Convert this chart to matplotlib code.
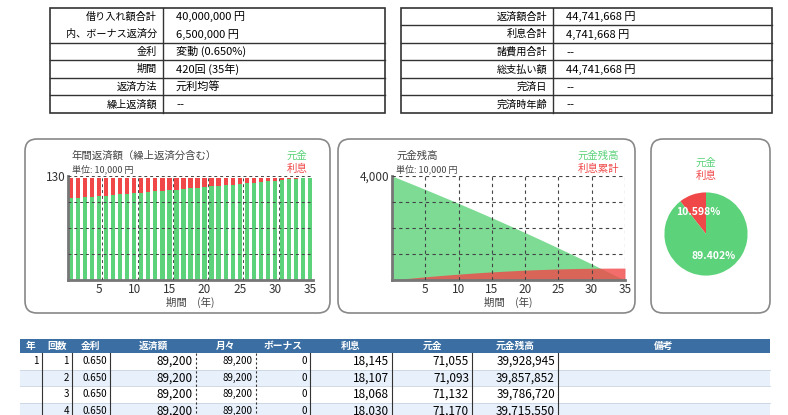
import matplotlib
matplotlib.use("Agg")
import matplotlib.pyplot as plt
from matplotlib.patches import FancyBboxPatch, Rectangle
import numpy as np

plt.rcParams['font.family'] = ['Noto Sans CJK JP', 'DejaVu Sans']

# ---- data ----
left_labels = ["借り入れ額合計", "内、ボーナス返済分", "金利", "期間", "返済方法", "繰上返済額"]
left_values = ["40,000,000 円", "6,500,000 円", "変動 (0.650%)", "420回 (35年)", "元利均等", "--"]
right_labels = ["返済額合計", "利息合計", "諸費用合計", "総支払い額", "完済日", "完済時年齢"]
right_values = ["44,741,668 円", "4,741,668 円", "--", "44,741,668 円", "--", "--"]

years = list(range(1, 36))
interest = [25.6, 25.0, 24.3, 23.6, 22.9, 22.2, 21.5, 20.8, 20.1, 19.4, 18.6, 17.9,
            17.1, 16.4, 15.6, 14.8, 14.0, 13.3, 12.5, 11.7, 10.9, 10.1, 9.3, 8.5,
            7.7, 6.9, 6.1, 5.3, 4.5, 3.7, 2.9, 2.1, 1.4, 0.8, 0.4]
principal = [102.2, 102.8, 103.5, 104.2, 104.9, 105.6, 106.3, 107.0, 107.7, 108.4,
             109.2, 109.9, 110.7, 111.4, 112.2, 113.0, 113.8, 114.5, 115.3, 116.1,
             116.9, 117.7, 118.5, 119.3, 120.1, 120.9, 121.7, 122.5, 123.3, 124.1,
             124.9, 125.7, 126.4, 127.0, 127.4]
bal_years = list(range(0, 36))
balance = [4000, 3898, 3795, 3691, 3587, 3482, 3377, 3270, 3163, 3056, 2947, 2838,
           2728, 2617, 2506, 2394, 2281, 2167, 2053, 1937, 1821, 1704, 1587, 1468,
           1349, 1229, 1108, 986, 864, 740, 616, 491, 365, 239, 112, 0]
cum_interest = [0, 26, 51, 75, 99, 122, 144, 166, 186, 206, 226, 244, 262, 279, 296,
                311, 326, 340, 353, 366, 378, 389, 399, 408, 417, 425, 432, 438, 443,
                448, 451, 454, 456, 457, 458, 458]
pie_labels = ["利息", "元金"]
pie_values = [10.598, 89.402]

header = ["年", "回数", "金利", "返済額", "月々", "ボーナス", "利息", "元金", "元金残高", "備考"]
rows = [
    ["1", "1", "0.650", "89,200", "89,200", "0", "18,145", "71,055", "39,928,945", ""],
    ["", "2", "0.650", "89,200", "89,200", "0", "18,107", "71,093", "39,857,852", ""],
    ["", "3", "0.650", "89,200", "89,200", "0", "18,068", "71,132", "39,786,720", ""],
    ["", "4", "0.650", "89,200", "89,200", "0", "18,030", "71,170", "39,715,550", ""],
]

GREEN = "#5cd27a"
RED = "#f04848"
W, H = 788, 415
fig = plt.figure(figsize=(W / 100, H / 100), dpi=100)

def ax_px(x0, y0, x1, y1):
    return fig.add_axes([x0 / W, 1 - y1 / H, (x1 - x0) / W, (y1 - y0) / H])

bg = fig.add_axes([0, 0, 1, 1])
bg.set_xlim(0, W); bg.set_ylim(H, 0); bg.axis("off")

# ---- top tables ----
def top_table(x0, xd, x1, labels, values, lines):
    y0, rh = 8, 17.5
    bg.add_patch(Rectangle((x0, y0), x1 - x0, rh * 6, fill=False, ec="#333", lw=1.2))
    bg.plot([xd, xd], [y0, y0 + rh * 6], color="#333", lw=1)
    for i in lines:
        bg.plot([x0, x1], [y0 + rh * i, y0 + rh * i], color="#333", lw=1)
    for i, (l, v) in enumerate(zip(labels, values)):
        yc = y0 + rh * (i + 0.5)
        bg.text(xd - 6, yc, l, ha="right", va="center", fontsize=7.3)
        bg.text(xd + 13, yc, v, ha="left", va="center", fontsize=8,
                family=['DejaVu Sans', 'Noto Sans CJK JP'] if v == "--" else None)

top_table(50, 163, 385, left_labels, left_values, [2, 3, 4, 5])
top_table(401, 553, 772, right_labels, right_values, [1, 2, 3, 4, 5])

# ---- panels ----
for (a, b) in [(25, 330), (338, 635), (651, 770)]:
    bg.add_patch(FancyBboxPatch((a, 139), b - a, 174, boxstyle="round,pad=0,rounding_size=12",
                                fill=False, ec="#888", lw=1.2))

# bar chart
ax1 = ax_px(68, 176, 313, 280)
ax1.bar(years, principal, width=0.62, color=GREEN, zorder=2)
ax1.bar(years, interest, bottom=principal, width=0.62, color=RED, zorder=2)
ax1.set_xlim(0.6, 35.4); ax1.set_ylim(0, 130)
ax1.set_yticks([130]); ax1.set_xticks([5, 10, 15, 20, 25, 30, 35])
for y in [32.5, 65, 97.5, 130]:
    ax1.axhline(y, color="#444", ls=(0, (3, 3)), lw=0.7, zorder=3)
for x in [5.5, 10.5, 15.5, 20.5, 25.5, 30.5, 35.4]:
    ax1.axvline(x, color="#444", ls=(0, (3, 3)), lw=0.7, zorder=3)
ax1.set_xlabel("期間　(年)", fontsize=7.5, color="#444", labelpad=1)
bg.text(72, 156, "年間返済額（繰上返済分含む）", fontsize=7.5, color="#444", va="center")
bg.text(72, 169, "単位: 10,000 円", fontsize=6.5, color="#444", va="center")
bg.text(307, 156, "元金", fontsize=7.5, color=GREEN, ha="right", va="center")
bg.text(307, 169, "利息", fontsize=7.5, color=RED, ha="right", va="center")

# area chart
ax2 = ax_px(392, 176, 625, 280)
ax2.fill_between(bal_years, balance, color=GREEN, alpha=0.8, lw=0, zorder=2)
ax2.fill_between(bal_years, cum_interest, color=RED, alpha=0.8, lw=0, zorder=2)
ax2.set_xlim(0, 35); ax2.set_ylim(0, 4000)
ax2.set_yticks([4000]); ax2.set_yticklabels(["4,000"])
ax2.set_xticks([5, 10, 15, 20, 25, 30, 35])
for y in [1000, 2000, 3000, 4000]:
    ax2.axhline(y, color="#444", ls=(0, (3, 3)), lw=0.8, zorder=3)
for x in [5, 10, 15, 20, 25, 30, 35]:
    ax2.axvline(x, color="#444", ls=(0, (3, 3)), lw=0.8, zorder=3)
ax2.set_xlabel("期間　(年)", fontsize=7.5, color="#444", labelpad=1)
bg.text(396, 156, "元金残高", fontsize=7.5, color="#444", va="center")
bg.text(396, 169, "単位: 10,000 円", fontsize=6.5, color="#444", va="center")
bg.text(619, 156, "元金残高", fontsize=7.5, color=GREEN, ha="right", va="center")
bg.text(619, 169, "利息累計", fontsize=7.5, color=RED, ha="right", va="center")

for ax in (ax1, ax2):
    for s in ("top", "right"):
        ax.spines[s].set_visible(False)
    ax.spines["left"].set_linewidth(2); ax.spines["left"].set_color("#777")
    ax.spines["bottom"].set_linewidth(2); ax.spines["bottom"].set_color("#777")
    ax.tick_params(length=0, labelsize=8.5, colors="#333", pad=2)
    ax.set_facecolor("white")

# pie
ax3 = ax_px(664, 192, 748, 276)
ax3.pie(pie_values, colors=[RED, GREEN], startangle=90, counterclock=True,
        autopct="%.3f%%", pctdistance=0.55,
        textprops=dict(color="white", fontsize=7.5, fontweight="bold"))
ax3.set_xlim(-1.01, 1.01); ax3.set_ylim(-1.01, 1.01)
ax3.set_aspect("equal")
bg.text(706, 163, "元金", fontsize=7.5, color=GREEN, ha="center", va="center")
bg.text(706, 176, "利息", fontsize=7.5, color=RED, ha="center", va="center")

# ---- bottom table ----
cols = [20, 42, 72, 110, 196, 256, 310, 392, 472, 558, 770]
hy, rh = 339, 16.5
bg.add_patch(Rectangle((20, hy), 750, 14, color="#3b6fa3", lw=0))
for j, h in enumerate(header):
    bg.text((cols[j] + cols[j + 1]) / 2, hy + 7, h, ha="center", va="center",
            fontsize=7, color="white", fontweight="bold")
for i, r in enumerate(rows):
    y = hy + 14 + i * rh
    bg.add_patch(Rectangle((20, y), 750, rh, color="white" if i % 2 == 0 else "#e8f1fb", lw=0))
    bg.plot([20, 770], [y + rh, y + rh], color="#c8d4e0", lw=0.6)
    for j, v in enumerate(r):
        if j == 9:
            continue
        bg.text(cols[j + 1] - 3, y + rh / 2, v, ha="right", va="center",
                fontsize=8.5 if j in (3, 6, 7, 8) else 7)
for j, x in enumerate(cols[1:-1]):
    ls = (0, (2, 2)) if x in (196, 256) else "-"
    bg.plot([x, x], [hy + 14, hy + 14 + 4 * rh], color="#333", lw=0.8, ls=ls)

fig.savefig("out.png", dpi=100)
